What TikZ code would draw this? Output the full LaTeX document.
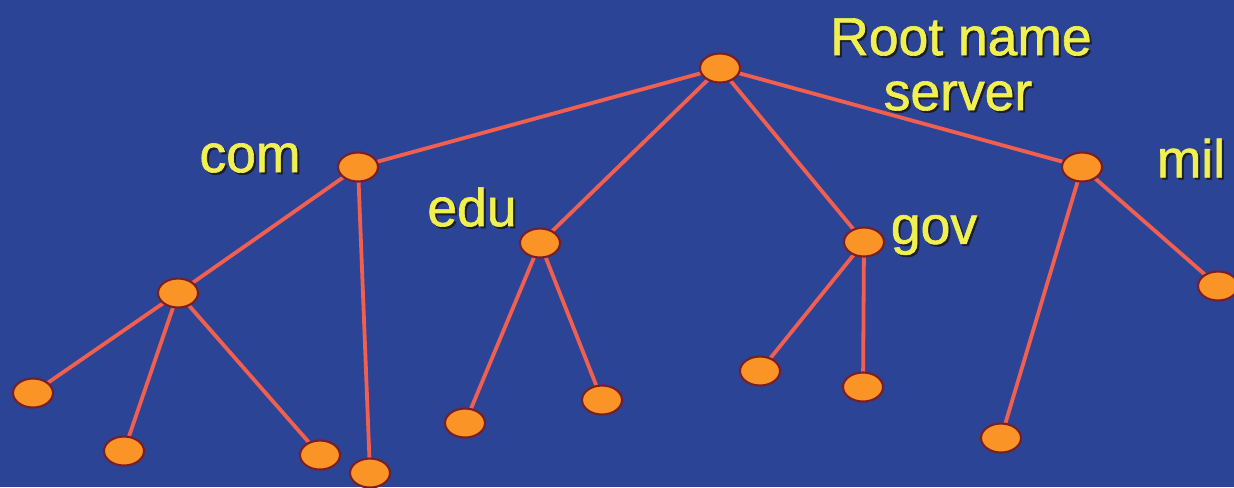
\documentclass[tikz,border=0pt]{standalone}
\usepackage{fontspec}
\setmainfont{Liberation Sans}
\newfontfamily\labelfont[FakeBold=1.2]{Liberation Sans}
\usetikzlibrary{shapes.geometric,calc}
\definecolor{bgblue}{RGB}{44,68,150}
\definecolor{nodeorange}{RGB}{250,148,38}
\definecolor{nodeedge}{RGB}{120,30,40}
\definecolor{linkred}{RGB}{242,95,78}
\definecolor{labelyellow}{RGB}{240,240,80}
\definecolor{labelshade}{RGB}{30,30,40}
\pgfdeclarelayer{background}
\pgfdeclarelayer{back}
\pgfsetlayers{back,background,main}
\begin{document}
\begin{tikzpicture}[x=0.01cm,y=-0.01cm,
  dnsnode/.style={ellipse,draw=nodeedge,line width=0.6pt,fill=nodeorange,
    minimum width=0.40cm,minimum height=0.29cm,inner sep=0pt},
  link/.style={draw=linkred,line width=0.038cm,line cap=round},
  lbl/.style={text=labelyellow,font=\labelfont\fontsize{15.2pt}{17pt}\selectfont,inner sep=0pt},
  lblshade/.style={text=labelshade,font=\labelfont\fontsize{15.2pt}{17pt}\selectfont,inner sep=0pt}
]
\begin{pgfonlayer}{back}
\path[fill=bgblue] (0,0) rectangle (1234,487);
\end{pgfonlayer}
\useasboundingbox (0,0) rectangle (1234,487);

% tree nodes
\node[dnsnode] (root) at (720,68) {};
\node[dnsnode] (com) at (358,167) {};
\node[dnsnode] (edu) at (540,243) {};
\node[dnsnode] (gov) at (864,242) {};
\node[dnsnode] (mil) at (1082,167) {};
\node[dnsnode] (ca) at (178,293) {};
\node[dnsnode] (caa) at (33,393) {};
\node[dnsnode] (cab) at (124,451) {};
\node[dnsnode] (cac) at (320,455) {};
\node[dnsnode] (cb) at (370,473) {};
\node[dnsnode] (ea) at (465,423) {};
\node[dnsnode] (eb) at (602,400) {};
\node[dnsnode] (ga) at (760,371) {};
\node[dnsnode] (gb) at (863,387) {};
\node[dnsnode] (ma) at (1001,438) {};
\node[dnsnode] (mb) at (1218,286) {};

% links, drawn beneath the nodes
\begin{pgfonlayer}{background}
\foreach \a/\b in {root/com,root/edu,root/gov,root/mil,com/ca,com/cb,
  ca/caa,ca/cab,ca/cac,edu/ea,edu/eb,gov/ga,gov/gb,mil/ma,mil/mb}
  \draw[link] (\a.center) -- (\b.center);
\end{pgfonlayer}

% labels with drop shadow
\foreach \t/\p [count=\i] in {com/{250,158},edu/{472,207},gov/{934,235},mil/{1191,158},
  Root name/{961,37},server/{958,96}}
{
  \node[lblshade] (shade\i) at ($(\p)+(2,2)$) {\t};
  \node[lbl] (label\i) at (\p) {\t};
}
\end{tikzpicture}
\end{document}
